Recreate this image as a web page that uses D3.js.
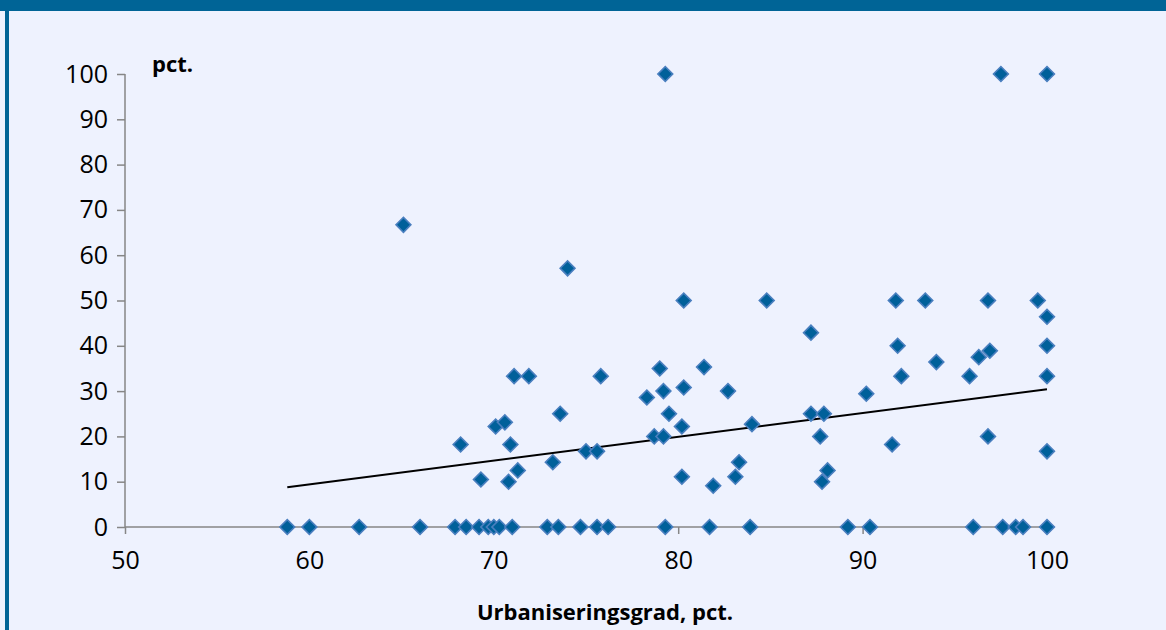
<!DOCTYPE html>
<html>
<head>
<meta charset="utf-8">
<script src="https://cdn.jsdelivr.net/npm/d3@7"></script>
<style>
  html, body { margin: 0; padding: 0; background: #eef2fe; }
  svg { display: block; }
</style>
</head>
<body>
<svg id="chart" width="1166" height="630"></svg>
<script>
// Urbaniseringsgrad (x, pct.) and value (y, pct.)
const xValues = [
  58.8, 60.0, 62.7, 66.0, 67.9, 68.5, 69.2, 69.7, 70.0, 70.3, 71.0, 72.9, 73.5, 74.7, 75.6, 76.2,
  79.3, 81.7, 83.9, 89.2, 90.4, 96.0, 97.6, 98.3, 98.7, 100,
  65.1, 74.0, 71.1, 71.9, 75.8, 73.6, 70.1, 70.6, 68.2, 70.9, 78.3, 69.3, 70.8, 71.3, 73.2,
  75.0, 75.6, 78.7, 80.3, 84.8, 87.2, 79.0, 81.4, 79.2, 80.3, 82.7, 90.2, 79.5, 80.2, 84.0,
  87.2, 87.9, 79.2, 87.7, 83.3, 83.1, 80.2, 81.9, 88.1, 87.8,
  91.8, 93.4, 96.8, 99.5, 100, 91.9, 94.0, 96.3, 96.9, 100, 92.1, 95.8, 100, 91.6, 96.8, 100,
  79.3, 97.5, 100
];
const yValues = [
  0, 0, 0, 0, 0, 0, 0, 0, 0, 0, 0, 0, 0, 0, 0, 0,
  0, 0, 0, 0, 0, 0, 0, 0, 0, 0,
  66.7, 57.1, 33.3, 33.3, 33.3, 25.0, 22.2, 23.1, 18.2, 18.2, 28.6, 10.5, 10.0, 12.5, 14.3,
  16.7, 16.7, 20.0, 50.0, 50.0, 42.9, 35.0, 35.3, 30.0, 30.8, 30.0, 29.4, 25.0, 22.2, 22.7,
  25.0, 25.0, 20.0, 20.0, 14.3, 11.1, 11.1, 9.1, 12.5, 10.0,
  50.0, 50.0, 50.0, 50.0, 46.4, 40.0, 36.4, 37.5, 38.9, 40.0, 33.3, 33.3, 33.3, 18.2, 20.0, 16.7,
  100, 100, 100
];
// Linear trend line end points
const trendX = [58.8, 100];
const trendY = [8.8, 30.4];
const xTicks = [50, 60, 70, 80, 90, 100];
const yTicks = [0, 10, 20, 30, 40, 50, 60, 70, 80, 90, 100];

const svg = d3.select("#chart");
const W = 1166, H = 630;

svg.append("rect").attr("x", 0).attr("y", 0).attr("width", W).attr("height", H).attr("fill", "#eef2fe");
svg.append("rect").attr("x", 0).attr("y", 0).attr("width", W).attr("height", 11).attr("fill", "#006496");
svg.append("rect").attr("x", 5).attr("y", 0).attr("width", 4).attr("height", H).attr("fill", "#006496");

const x = d3.scaleLinear().domain([50, 100]).range([125, 1047]);
const y = d3.scaleLinear().domain([0, 100]).range([527, 74]);

const font = "'Open Sans', 'Liberation Sans', sans-serif";
const axisColor = "#868686";

// Y axis
const yAxis = svg.append("g").attr("transform", `translate(${x(50)},0)`)
  .call(d3.axisLeft(y).tickValues(yTicks).tickSize(8).tickPadding(9).tickFormat(d3.format("d")));
yAxis.select(".domain").attr("stroke", axisColor).attr("stroke-width", 1.5).attr("d", `M0,${y(100)}H0V${y(0)}`);
yAxis.selectAll(".tick line").attr("stroke", axisColor).attr("stroke-width", 1.5);
yAxis.selectAll(".tick text").attr("fill", "#000").attr("font-family", font).attr("font-size", 25)
  .style("font-family", font).style("font-size", "25px");

// X axis
const xAxis = svg.append("g").attr("transform", `translate(0,${y(0)})`)
  .call(d3.axisBottom(x).tickValues(xTicks).tickSize(7).tickPadding(0).tickFormat(d3.format("d")));
xAxis.select(".domain").attr("stroke", axisColor).attr("stroke-width", 1.5).attr("d", `M${x(50)},0H${x(100)}`);
xAxis.selectAll(".tick line").attr("stroke", axisColor).attr("stroke-width", 1.5);
xAxis.selectAll(".tick text").attr("fill", "#000").attr("dy", null).attr("y", 42)
  .attr("font-family", font).attr("font-size", 25)
  .style("font-family", font).style("font-size", "25px");

// Trend line
const line = d3.line().x(d => x(d[0])).y(d => y(d[1]));
svg.append("path").datum(d3.zip(trendX, trendY)).attr("d", line)
  .attr("fill", "none").attr("stroke", "#000").attr("stroke-width", 2);

// Points (diamonds)
const diamond = d3.symbol().type(d3.symbolSquare).size(110);
svg.append("g").selectAll("path").data(d3.zip(xValues, yValues)).join("path")
  .attr("d", diamond)
  .attr("transform", d => `translate(${x(d[0])},${y(d[1])}) rotate(45)`)
  .attr("fill", "#00609a").attr("stroke", "#4a7fbf").attr("stroke-width", 1.6);

// Labels
svg.append("text").attr("x", 152).attr("y", 72).text("pct.")
  .style("font-family", font).style("font-size", "22px").style("font-weight", "bold").attr("fill", "#000");
svg.append("text").attr("x", 605).attr("y", 620).attr("text-anchor", "middle").text("Urbaniseringsgrad, pct.")
  .style("font-family", font).style("font-size", "22px").style("font-weight", "bold").attr("fill", "#000");
</script>
</body>
</html>
